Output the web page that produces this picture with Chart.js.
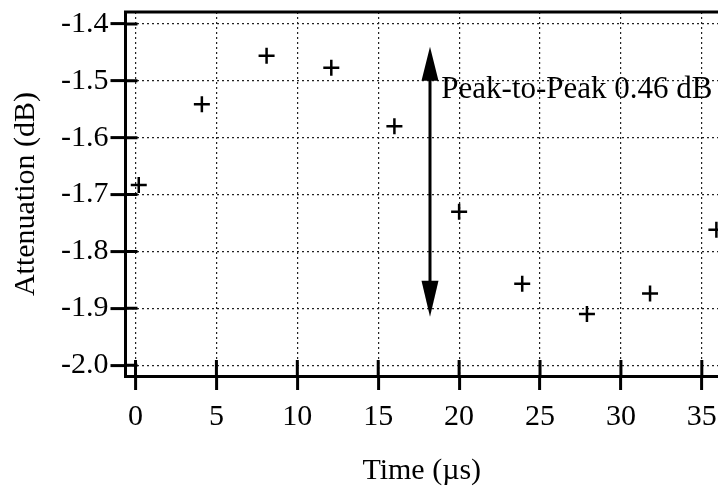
<!DOCTYPE html>
<html>
<head>
<meta charset="utf-8">
<script src="https://cdn.jsdelivr.net/npm/chart.js@4/dist/chart.umd.min.js"></script>
<style>
    html, body { margin: 0; padding: 0; background: #fff; }
    #wrap { width: 718px; height: 493px; }
</style>
</head>
<body>
<div id="wrap"><canvas id="chart"></canvas></div>
<script>
// Measured points (time in us, attenuation in dB)
const times = [0.2, 4.1, 8.1, 12.1, 16.0, 20.0, 23.9, 27.9, 31.8, 35.9];
const attenuation = [-1.683, -1.541, -1.456, -1.477, -1.580, -1.730, -1.857, -1.910, -1.874, -1.762];

// Tick values
const xTicks = [0, 5, 10, 15, 20, 25, 30, 35];
const yTicks = [-2.0, -1.9, -1.8, -1.7, -1.6, -1.5, -1.4];

// Peak-to-peak annotation (arrow position and label)
const arrowX = 18.2;
const arrowTop = -1.440;
const arrowBottom = -1.915;
const peakLabel = "Peak-to-Peak 0.46 dB";
const peakLabelX = 18.9;
const peakLabelY = -1.516;

const serif = "'Liberation Serif', 'Times New Roman', serif";

// Ticks crossing the axes, top frame line and the arrow
const framePlugin = {
    id: 'frame',
    afterDatasetsDraw: function(chart) {
        const ctx = chart.ctx;
        const area = chart.chartArea;
        const xs = chart.scales.x;
        const ys = chart.scales.y;
        ctx.save();
        ctx.strokeStyle = '#000';
        ctx.lineWidth = 3;
        ctx.beginPath();
        ctx.moveTo(area.left - 1.5, area.top);
        ctx.lineTo(area.right, area.top);
        // inner part of the ticks
        xTicks.forEach(function(v) {
            const px = xs.getPixelForValue(v);
            ctx.moveTo(px, area.bottom);
            ctx.lineTo(px, area.bottom - 16);
        });
        yTicks.forEach(function(v) {
            const py = ys.getPixelForValue(v);
            ctx.moveTo(area.left, py);
            ctx.lineTo(area.left + 12, py);
        });
        ctx.stroke();

        // double arrow
        const ax = xs.getPixelForValue(arrowX);
        const at = ys.getPixelForValue(arrowTop);
        const ab = ys.getPixelForValue(arrowBottom);
        ctx.beginPath();
        ctx.moveTo(ax, at + 20);
        ctx.lineTo(ax, ab - 20);
        ctx.stroke();
        ctx.fillStyle = '#000';
        ctx.beginPath();
        ctx.moveTo(ax, at);
        ctx.lineTo(ax - 8.5, at + 34);
        ctx.lineTo(ax + 8.5, at + 34);
        ctx.closePath();
        ctx.fill();
        ctx.beginPath();
        ctx.moveTo(ax, ab);
        ctx.lineTo(ax - 8.5, ab - 36);
        ctx.lineTo(ax + 8.5, ab - 36);
        ctx.closePath();
        ctx.fill();

        ctx.font = "31px " + serif;
        ctx.textAlign = 'left';
        ctx.textBaseline = 'middle';
        ctx.fillText(peakLabel, xs.getPixelForValue(peakLabelX), ys.getPixelForValue(peakLabelY));
        ctx.restore();
    }
};

const ctx = document.getElementById('chart');
new Chart(ctx, {
    type: 'scatter',
    data: {
        datasets: [{
            label: 'Attenuation',
            data: times.map((t, i) => ({x: t, y: attenuation[i]})),
            pointStyle: 'cross',
            pointRadius: 8,
            pointBorderWidth: 2.5,
            borderColor: '#000',
            backgroundColor: '#000',
            clip: false
        }]
    },
    options: {
        responsive: true,
        maintainAspectRatio: false,
        animation: false,
        layout: { autoPadding: false, padding: { top: 12, right: 0, left: 0, bottom: 0 } },
        plugins: {
            legend: { display: false },
            tooltip: { enabled: false }
        },
        scales: {
            x: {
                type: 'linear',
                min: -0.62,
                max: 36.0,
                afterBuildTicks: function(scale) {
                    scale.ticks = xTicks.map(v => ({value: v}));
                },
                afterFit: function(scale) {
                    // let the plot run to the right edge like the cropped scan
                    scale.paddingLeft = 0;
                    scale.paddingRight = 0;
                },
                ticks: {
                    color: '#000',
                    padding: 9,
                    maxRotation: 0,
                    font: { family: serif, size: 30 },
                    callback: v => String(v)
                },
                grid: {
                    color: '#222',
                    lineWidth: 1.2,
                    tickLength: 14,
                    tickWidth: 3,
                    tickColor: '#000',
                    tickBorderDash: []
                },
                border: { display: true, color: '#000', width: 3, dash: [2, 3] },
                title: {
                    display: true,
                    text: 'Time (\u00b5s)',
                    color: '#000',
                    font: { family: serif, size: 30 },
                    padding: { top: 9, bottom: 4 }
                }
            },
            y: {
                type: 'linear',
                min: -2.019,
                max: -1.379,
                afterBuildTicks: function(scale) {
                    scale.ticks = yTicks.map(v => ({value: v}));
                },
                afterFit: function(scale) {
                    scale.paddingTop = 0;
                    scale.paddingBottom = 0;
                },
                ticks: {
                    color: '#000',
                    padding: 2,
                    font: { family: serif, size: 30 },
                    callback: v => v.toFixed(1)
                },
                grid: {
                    color: '#222',
                    lineWidth: 1.2,
                    tickLength: 15,
                    tickWidth: 3,
                    tickColor: '#000',
                    tickBorderDash: []
                },
                border: { display: true, color: '#000', width: 3, dash: [2, 3] },
                title: {
                    display: true,
                    text: 'Attenuation (dB)',
                    color: '#000',
                    font: { family: serif, size: 30 },
                    padding: { top: 8, bottom: 15 }
                }
            }
        }
    },
    plugins: [framePlugin]
});
</script>
</body>
</html>
